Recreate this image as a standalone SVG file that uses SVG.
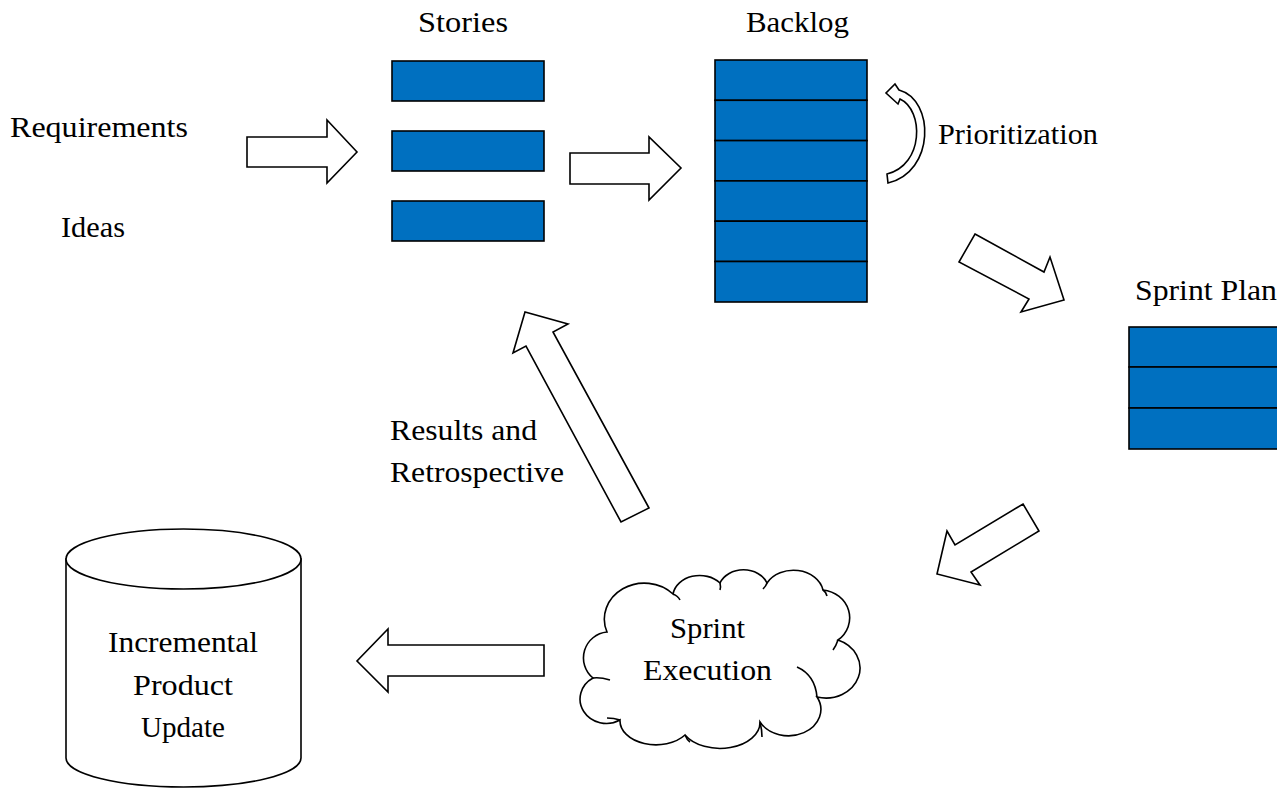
<svg xmlns="http://www.w3.org/2000/svg" width="1277" height="788" viewBox="0 0 1277 788">
<style>
.box{fill:#0070C0;stroke:#000;stroke-width:1.6}
.arrow{fill:#fff;stroke:#000;stroke-width:1.6;stroke-linejoin:miter}
.shape{fill:#fff;stroke:#000;stroke-width:1.6}
.line{fill:none;stroke:#000;stroke-width:1.6}
.t{font-family:'Liberation Serif',serif;font-size:28.5px;fill:#000}
</style>
<rect x="0" y="0" width="1277" height="788" fill="#fff"/>

<g id="requirements"><text class="t" x="10" y="137" textLength="178" lengthAdjust="spacingAndGlyphs">Requirements</text></g>
<g id="ideas"><text class="t" x="61" y="237" textLength="64" lengthAdjust="spacingAndGlyphs">Ideas</text></g>

<g id="stories">
<text class="t" x="418" y="32" textLength="90" lengthAdjust="spacingAndGlyphs">Stories</text>
<rect class="box" x="392" y="61" width="152" height="40"/>
<rect class="box" x="392" y="131" width="152" height="40"/>
<rect class="box" x="392" y="201" width="152" height="40"/>
</g>

<g id="backlog">
<text class="t" x="746" y="32" textLength="103" lengthAdjust="spacingAndGlyphs">Backlog</text>
<rect class="box" x="715" y="60" width="152" height="40.3"/>
<rect class="box" x="715" y="100.3" width="152" height="40.3"/>
<rect class="box" x="715" y="140.6" width="152" height="40.3"/>
<rect class="box" x="715" y="180.9" width="152" height="40.3"/>
<rect class="box" x="715" y="221.2" width="152" height="40.3"/>
<rect class="box" x="715" y="261.5" width="152" height="40.5"/>
</g>

<g id="prioritization">
<text class="t" x="938" y="144" textLength="160" lengthAdjust="spacingAndGlyphs">Prioritization</text>
</g>

<g id="sprint-plan">
<text class="t" x="1135" y="300" textLength="142" lengthAdjust="spacingAndGlyphs">Sprint Plan</text>
<rect class="box" x="1129" y="327" width="160" height="40"/>
<rect class="box" x="1129" y="367" width="160" height="41"/>
<rect class="box" x="1129" y="408" width="160" height="41"/>
</g>

<g id="sprint-execution">
<path class="shape" d="M607,632 A26,26 0 0 0 593,678 A26,24 0 0 0 620,720 A36,24 0 0 0 685,735 A40,26 0 0 0 760,722 A32,26 0 0 0 817,697 A34,30 0 0 0 838,640 A30,28 0 0 0 823,590 A30,24 0 0 0 767,583 A25,20 0 0 0 720,583 A27,22 0 0 0 673,594 A40,36 0 0 0 607,632 Z"/>
<path class="line" d="M673,594 Q678,596 680,600"/>
<path class="line" d="M720,583 Q721,587 720,590"/>
<path class="line" d="M767,583 Q766,586 763,589"/>
<path class="line" d="M823,590 Q826,592 827,596"/>
<path class="line" d="M838,640 Q836,646 833,650"/>
<path class="line" d="M797,667 Q815,675 817,697"/>
<path class="line" d="M760,722 Q762,730 762,737"/>
<path class="line" d="M685,735 Q687,740 690,742"/>
<path class="line" d="M620,720 Q614,718 607,718"/>
<path class="line" d="M593,678 Q600,677 610,680"/>
<text class="t" x="670" y="638" textLength="75" lengthAdjust="spacingAndGlyphs">Sprint</text>
<text class="t" x="643" y="680" textLength="129" lengthAdjust="spacingAndGlyphs">Execution</text>
</g>

<g id="product-update">
<path class="shape" d="M66,559 L66,758 A117.5,29 0 0 0 301,758 L301,559 Z"/>
<ellipse class="shape" cx="183.5" cy="559" rx="117.5" ry="30"/>
<text class="t" x="108" y="652" textLength="150" lengthAdjust="spacingAndGlyphs">Incremental</text>
<text class="t" x="133" y="695" textLength="100" lengthAdjust="spacingAndGlyphs">Product</text>
<text class="t" x="141" y="737" textLength="84" lengthAdjust="spacingAndGlyphs">Update</text>
</g>

<g id="retro-label">
<text class="t" x="390" y="440" textLength="147" lengthAdjust="spacingAndGlyphs">Results and</text>
<text class="t" x="390" y="482" textLength="174" lengthAdjust="spacingAndGlyphs">Retrospective</text>
</g>

<g id="connectors">
<polygon class="arrow" points="247,137 327,137 327,120 357,152 327,183 327,167 247,167"/>
<polygon class="arrow" points="570,153 649,153 649,137 681,168 649,200 649,184 570,184"/>
<path class="arrow" d="M888,183 C935,172 935,100 899,90 L895,84 L886,93 L898,104 L900,99 C924,110 924,165 887,174 Z"/>
<polygon class="arrow" points="975,234 1044,272 1050,257 1064,300 1021,312 1029,299 959,262"/>
<polygon class="arrow" points="1023,504 1039,531 971,572 980,585 937,574 947,531 955,545"/>
<polygon class="arrow" points="544,645 388,645 388,629 357,661 388,692 388,676 544,676"/>
<polygon class="arrow" points="649,508 553,332 568,324 525,312 513,353 526,346 621,522"/>
</g>
</svg>
